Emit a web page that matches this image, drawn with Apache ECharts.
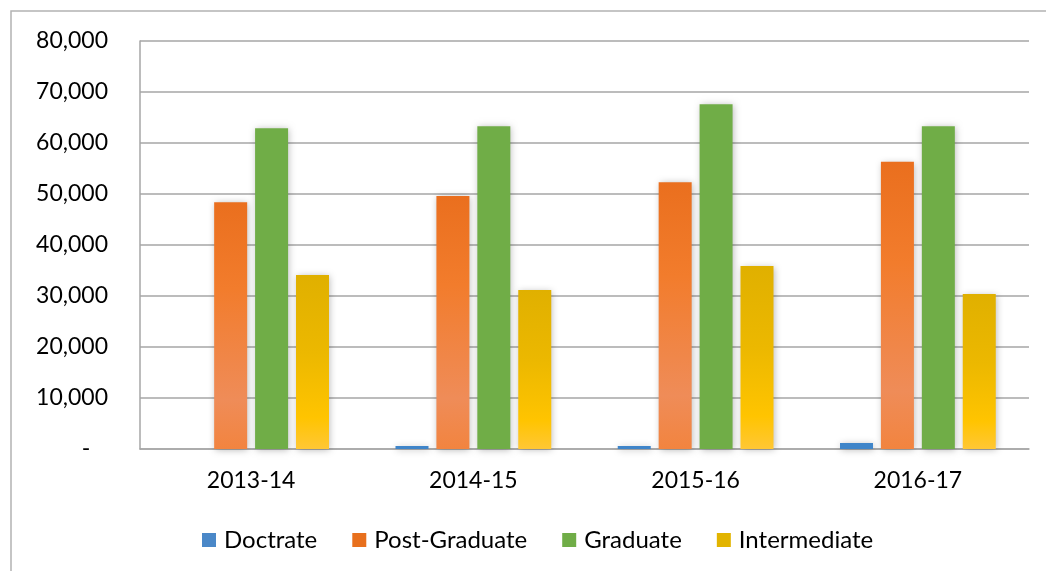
<!DOCTYPE html>
<html>
<head>
<meta charset="utf-8">
<script src="https://cdn.jsdelivr.net/npm/echarts@6/dist/echarts.min.js"></script>
<style>
html, body { margin: 0; padding: 0; background: #fff; }
#main { width: 1046px; height: 571px; }
</style>
</head>
<body>
<div id="main"></div>
<script>
var years = ['2013-14', '2014-15', '2015-16', '2016-17'];
var doctrate = [0, 600, 600, 1200];
var postGraduate = [48400, 49600, 52300, 56300];
var graduate = [62900, 63300, 67600, 63300];
var intermediate = [34100, 31200, 35900, 30400];

var myChart = echarts.init(document.getElementById('main'));

var font = 'Lato, "Open Sans", sans-serif';
var shadow = { shadowBlur: 7, shadowColor: 'rgba(0,0,0,0.28)', shadowOffsetX: 1, shadowOffsetY: 1 };

function grad(stops) {
    return new echarts.graphic.LinearGradient(0, 0, 0, 1, stops);
}

function barSeries(name, data, color) {
    return {
        name: name,
        type: 'bar',
        data: data,
        barWidth: 33,
        barGap: '24%',
        itemStyle: Object.assign({ color: color }, shadow)
    };
}

var option = {
    animation: false,
    textStyle: { fontFamily: font },
    graphic: [{
        type: 'rect',
        shape: { x: 11, y: 11, width: 1200, height: 800 },
        style: { fill: 'none', stroke: '#b3b3b3', lineWidth: 1.5 },
        z: -10
    }],
    grid: { left: 140, right: 17, top: 41, bottom: 122 },
    legend: {
        bottom: 14,
        left: 197,
        itemWidth: 14,
        itemHeight: 14,
        itemGap: 35,
        icon: 'rect',
        textStyle: { fontSize: 24, color: '#000', fontFamily: font, padding: [0, 0, 0, 3] },
        data: [
            { name: 'Doctrate', itemStyle: { color: '#4a88c8', shadowBlur: 0 } },
            { name: 'Post-Graduate', itemStyle: { color: '#e8701d', shadowBlur: 0 } },
            { name: 'Graduate', itemStyle: { color: '#70ad47', shadowBlur: 0 } },
            { name: 'Intermediate', itemStyle: { color: '#e2b400', shadowBlur: 0 } }
        ]
    },
    xAxis: {
        type: 'category',
        data: years,
        axisTick: { show: false },
        axisLine: { show: true, lineStyle: { color: '#a6a6a6', width: 1.5 } },
        axisLabel: { fontSize: 23, color: '#000', margin: 20 }
    },
    yAxis: {
        type: 'value',
        min: 0,
        max: 80000,
        interval: 10000,
        axisLine: { show: true, lineStyle: { color: '#a6a6a6', width: 1.5 } },
        axisTick: { show: false },
        splitLine: { lineStyle: { color: '#a6a6a6', width: 1.5 } },
        axisLabel: {
            fontSize: 23,
            color: '#000',
            margin: 32,
            formatter: function (v) {
                if (v === 0) return '-   ';
                return v.toLocaleString('en-US');
            }
        }
    },
    series: [
        barSeries('Doctrate', doctrate, '#3f85c9'),
        barSeries('Post-Graduate', postGraduate, grad([
            { offset: 0, color: '#ea6f1e' },
            { offset: 0.35, color: '#f27c2c' },
            { offset: 0.8, color: '#ef8c58' },
            { offset: 1, color: '#f2843f' }
        ])),
        barSeries('Graduate', graduate, '#70ad47'),
        barSeries('Intermediate', intermediate, grad([
            { offset: 0, color: '#e0b000' },
            { offset: 0.45, color: '#ecb800' },
            { offset: 0.82, color: '#ffc400' },
            { offset: 1, color: '#ffc735' }
        ]))
    ]
};

myChart.setOption(option);
</script>
</body>
</html>
